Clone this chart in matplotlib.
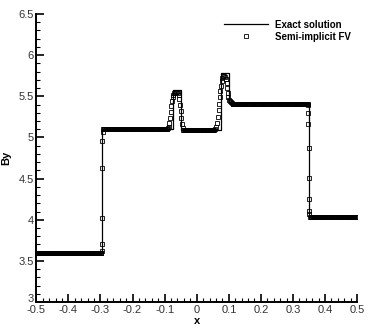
import numpy as np
import matplotlib
matplotlib.use("Agg")
import matplotlib.pyplot as plt
import matplotlib.transforms as mtransforms
from matplotlib.ticker import MultipleLocator, FuncFormatter

plt.rcParams['font.family'] = ['Liberation Sans', 'DejaVu Sans']

# exact solution: piecewise constant states (x of discontinuities, values)
exact_breaks = [-0.295, -0.075, -0.048, 0.077, 0.102, 0.349]
exact_states = [3.6, 5.1, 5.575, 5.085, 5.78, 5.42, 4.03]

# numerical solution, plateaus (x start, x end, value) on the cell grid
dx = 0.002
plateaus = [(-0.499, -0.297, 3.6), (-0.292, -0.092, 5.1),
            (-0.040, 0.053, 5.085), (0.112, 0.346, 5.41),
            (0.353, 0.499, 4.03)]

# numerical solution, points inside the transitions
jump1_x = [-0.296, -0.2955, -0.295, -0.2945, -0.294, -0.2935]
jump1_y = [3.62, 3.70, 4.02, 4.63, 4.96, 5.07]
peak1_x = [-0.090, -0.087, -0.085, -0.083, -0.081, -0.079, -0.077, -0.075,
           -0.073, -0.070, -0.067, -0.064, -0.061, -0.058, -0.056, -0.054,
           -0.052, -0.050, -0.048, -0.046, -0.044, -0.042]
peak1_y = [5.11, 5.13, 5.18, 5.24, 5.31, 5.38, 5.44, 5.49,
           5.52, 5.54, 5.55, 5.55, 5.55, 5.54, 5.52, 5.47,
           5.40, 5.32, 5.24, 5.16, 5.11, 5.09]
peak2_x = [0.055, 0.058, 0.061, 0.064, 0.066, 0.068, 0.070, 0.072, 0.074,
           0.076, 0.078, 0.080, 0.083, 0.086, 0.089, 0.091, 0.093, 0.095,
           0.097, 0.099, 0.101, 0.104, 0.107, 0.110]
peak2_y = [5.09, 5.10, 5.13, 5.18, 5.25, 5.33, 5.41, 5.49, 5.56,
           5.62, 5.68, 5.72, 5.75, 5.75, 5.74, 5.71, 5.66, 5.60,
           5.54, 5.49, 5.46, 5.44, 5.43, 5.42]
jump2_x = [0.347, 0.3475, 0.348, 0.3485, 0.349, 0.3495, 0.350, 0.351]
jump2_y = [5.39, 5.30, 5.16, 4.87, 4.51, 4.25, 4.11, 4.07]

# build arrays
ex_x = [-0.5]
ex_y = [exact_states[0]]
for b, s0, s1 in zip(exact_breaks, exact_states[:-1], exact_states[1:]):
    ex_x += [b, b]
    ex_y += [s0, s1]
ex_x.append(0.5)
ex_y.append(exact_states[-1])

num_x = list(jump1_x) + list(peak1_x) + list(peak2_x) + list(jump2_x)
num_y = list(jump1_y) + list(peak1_y) + list(peak2_y) + list(jump2_y)
for a, b, v in plateaus:
    xs = np.arange(a, b + 1e-9, dx)
    num_x += list(xs)
    num_y += [v] * len(xs)

fig = plt.figure(figsize=(3.74, 3.32), dpi=100)
ax = fig.add_axes([0.097, 0.090, 0.858, 0.868])

ax.plot(ex_x, ex_y, color='black', lw=0.9, label='Exact solution')
ax.plot(num_x, num_y, ls='none', marker='s', markersize=2.6, mfc='none',
        mec='black', mew=0.6, label='Semi-implicit FV')

ax.set_xlim(-0.5, 0.5)
ax.set_ylim(3, 6.5)
ax.xaxis.set_major_locator(MultipleLocator(0.1))
ax.xaxis.set_minor_locator(MultipleLocator(0.02))
ax.yaxis.set_major_locator(MultipleLocator(0.5))
ax.yaxis.set_minor_locator(MultipleLocator(0.1))
fmt = FuncFormatter(lambda v, p: '%g' % round(v, 3))
ax.xaxis.set_major_formatter(fmt)
ax.yaxis.set_major_formatter(fmt)

for s in ['top', 'right']:
    ax.spines[s].set_visible(False)
for s in ['left', 'bottom']:
    ax.spines[s].set_linewidth(1.4)

ax.tick_params(which='major', direction='in', length=6, width=1.2,
               labelsize=8, labelcolor='#333333', pad=2)
ax.tick_params(which='minor', direction='in', length=3, width=0.8)

ax.set_xlabel('x', fontsize=8, fontweight='bold', labelpad=1)
ax.set_ylabel('By', fontsize=8, fontweight='bold', labelpad=5)

leg = ax.legend(loc='upper right', frameon=False,
                prop={'weight': 'bold', 'size': 7}, handlelength=4.5,
                bbox_to_anchor=(1.0, 1.0), borderaxespad=0.2,
                labelspacing=0.2)

# nudge the bottom y label up a little, as in the original
fig.canvas.draw()
for lab in ax.get_yticklabels():
    if lab.get_text() == '3':
        lab.set_transform(lab.get_transform() +
                          mtransforms.ScaledTranslation(0, 3 / 72, fig.dpi_scale_trans))

fig.savefig('out.png', dpi=100)
